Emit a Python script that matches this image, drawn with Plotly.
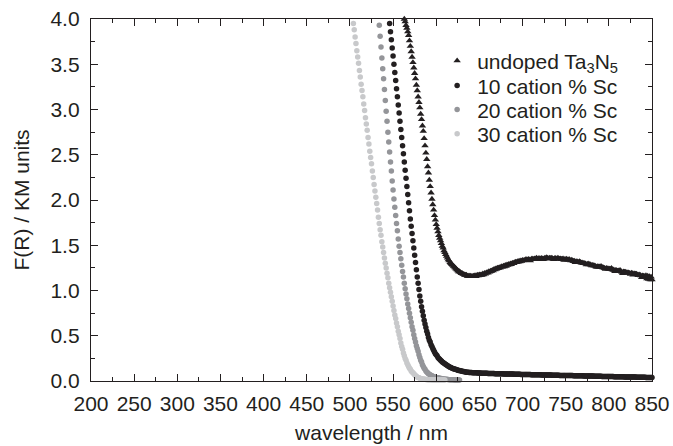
import plotly.graph_objects as go

FONT = "Liberation Sans, Arial, Helvetica, sans-serif"
INK = "#231f20"

# ---------------- data (1 nm steps) ----------------
wl_undoped = list(range(563, 851))
f_undoped = [
    4.00, 3.97, 3.93, 3.90, 3.86, 3.82, 3.76, 3.70, 3.64, 3.58,
    3.52, 3.46, 3.40, 3.34, 3.27, 3.21, 3.14, 3.08, 3.02, 2.95,
    2.89, 2.82, 2.76, 2.68, 2.60, 2.52, 2.45, 2.37, 2.30, 2.22,
    2.15, 2.08, 2.01, 1.95, 1.89, 1.83, 1.78, 1.73, 1.69, 1.65,
    1.61, 1.58, 1.55, 1.52, 1.49, 1.47, 1.44, 1.42, 1.40, 1.38,
    1.36, 1.34, 1.33, 1.31, 1.30, 1.29, 1.28, 1.27, 1.26, 1.25,
    1.24, 1.23, 1.22, 1.21, 1.21, 1.20, 1.19, 1.19, 1.18, 1.18,
    1.17, 1.17, 1.17, 1.16, 1.16, 1.16, 1.16, 1.16, 1.155, 1.155,
    1.16, 1.16, 1.165, 1.155, 1.165, 1.17, 1.165, 1.175, 1.17, 1.175,
    1.17, 1.185, 1.175, 1.19, 1.185, 1.195, 1.20, 1.195, 1.21, 1.205,
    1.215, 1.215, 1.225, 1.22, 1.235, 1.23, 1.24, 1.24, 1.25, 1.245,
    1.255, 1.25, 1.26, 1.265, 1.26, 1.27, 1.265, 1.28, 1.27, 1.285,
    1.28, 1.29, 1.285, 1.295, 1.29, 1.30, 1.305, 1.30, 1.31, 1.315,
    1.31, 1.32, 1.315, 1.325, 1.32, 1.33, 1.325, 1.335, 1.33, 1.335,
    1.335, 1.345, 1.335, 1.34, 1.345, 1.34, 1.33, 1.345, 1.35, 1.345,
    1.345, 1.35, 1.345, 1.36, 1.35, 1.345, 1.355, 1.35, 1.35, 1.355,
    1.352, 1.345, 1.353, 1.36, 1.354, 1.365, 1.355, 1.35, 1.358, 1.355,
    1.355, 1.36, 1.352, 1.345, 1.354, 1.355, 1.35, 1.352, 1.36, 1.350,
    1.349, 1.352, 1.345, 1.347, 1.35, 1.335, 1.344, 1.342, 1.348, 1.340,
    1.338, 1.345, 1.335, 1.33, 1.336, 1.329, 1.322, 1.325, 1.31, 1.321,
    1.319, 1.317, 1.31, 1.32, 1.311, 1.305, 1.307, 1.3, 1.302, 1.299,
    1.296, 1.285, 1.29, 1.295, 1.286, 1.29, 1.282, 1.276, 1.28, 1.276,
    1.274, 1.272, 1.265, 1.258, 1.266, 1.262, 1.262, 1.26, 1.268, 1.256,
    1.254, 1.252, 1.245, 1.236, 1.246, 1.244, 1.238, 1.24, 1.238, 1.236,
    1.245, 1.232, 1.228, 1.226, 1.212, 1.224, 1.222, 1.215, 1.218, 1.216,
    1.225, 1.212, 1.204, 1.19, 1.206, 1.204, 1.205, 1.20, 1.195, 1.197,
    1.196, 1.19, 1.182, 1.192, 1.19, 1.172, 1.186, 1.185, 1.183, 1.182,
    1.175, 1.168, 1.175, 1.172, 1.165, 1.145, 1.163, 1.16, 1.158, 1.15,
    1.165, 1.13, 1.16, 1.125, 1.155, 1.12, 1.15, 1.12,
]

wl_sc10 = list(range(546, 851))
f_sc10 = [
    3.95, 3.86, 3.77, 3.68, 3.59, 3.50, 3.41, 3.32, 3.23, 3.14,
    3.05, 2.96, 2.87, 2.78, 2.69, 2.60, 2.51, 2.42, 2.33, 2.24,
    2.15, 2.06, 1.97, 1.88, 1.79, 1.71, 1.63, 1.55, 1.47, 1.39,
    1.31, 1.23, 1.15, 1.08, 1.01, 0.94, 0.88, 0.82, 0.77, 0.72,
    0.67, 0.63, 0.59, 0.55, 0.52, 0.48, 0.45, 0.43, 0.40, 0.38,
    0.36, 0.34, 0.32, 0.30, 0.29, 0.28, 0.26, 0.25, 0.24, 0.23,
    0.22, 0.21, 0.205, 0.197, 0.19, 0.183, 0.176, 0.17, 0.164, 0.158,
    0.153, 0.148, 0.143, 0.139, 0.135, 0.132, 0.129, 0.126, 0.123, 0.12,
    0.117, 0.115, 0.112, 0.11, 0.108, 0.106, 0.104, 0.102, 0.10, 0.098,
    0.097, 0.096, 0.095, 0.094, 0.094, 0.093, 0.092, 0.092, 0.091, 0.091,
    0.090, 0.090, 0.089, 0.089, 0.088, 0.088, 0.087, 0.087, 0.087, 0.086,
    0.086, 0.085, 0.085, 0.085, 0.084, 0.084, 0.083, 0.083, 0.083, 0.082,
    0.082, 0.082, 0.081, 0.081, 0.081, 0.080, 0.080, 0.080, 0.080, 0.079,
    0.079, 0.079, 0.078, 0.078, 0.078, 0.078, 0.077, 0.077, 0.077, 0.077,
    0.076, 0.076, 0.076, 0.076, 0.075, 0.075, 0.075, 0.075, 0.074, 0.074,
    0.074, 0.074, 0.073, 0.073, 0.073, 0.073, 0.072, 0.072, 0.072, 0.072,
    0.071, 0.071, 0.071, 0.071, 0.070, 0.070, 0.070, 0.070, 0.069, 0.069,
    0.069, 0.069, 0.068, 0.068, 0.068, 0.068, 0.067, 0.067, 0.067, 0.067,
    0.066, 0.066, 0.066, 0.066, 0.065, 0.065, 0.065, 0.065, 0.064, 0.064,
    0.064, 0.064, 0.063, 0.063, 0.063, 0.063, 0.063, 0.062, 0.062, 0.062,
    0.062, 0.062, 0.062, 0.062, 0.062, 0.061, 0.061, 0.061, 0.061, 0.060,
    0.060, 0.060, 0.060, 0.059, 0.059, 0.059, 0.059, 0.058, 0.058, 0.058,
    0.058, 0.057, 0.057, 0.057, 0.057, 0.056, 0.056, 0.056, 0.056, 0.055,
    0.055, 0.055, 0.055, 0.054, 0.054, 0.054, 0.054, 0.053, 0.053, 0.053,
    0.053, 0.052, 0.052, 0.052, 0.052, 0.052, 0.051, 0.051, 0.051, 0.051,
    0.051, 0.050, 0.050, 0.050, 0.050, 0.050, 0.049, 0.049, 0.049, 0.049,
    0.048, 0.048, 0.048, 0.048, 0.047, 0.047, 0.047, 0.047, 0.046, 0.046,
    0.046, 0.046, 0.045, 0.045, 0.045, 0.045, 0.045, 0.044, 0.044, 0.044,
    0.044, 0.043, 0.043, 0.043, 0.043, 0.043, 0.042, 0.042, 0.042, 0.042,
    0.042, 0.041, 0.041, 0.041, 0.041, 0.041, 0.041, 0.040, 0.040, 0.040,
    0.040, 0.040, 0.040, 0.040, 0.040,
]

wl_sc20 = list(range(534, 628))
f_sc20 = [
    3.93, 3.81, 3.69, 3.57, 3.45, 3.34, 3.22, 3.10, 2.98, 2.87,
    2.75, 2.64, 2.53, 2.42, 2.32, 2.21, 2.11, 2.01, 1.92, 1.83,
    1.74, 1.66, 1.57, 1.49, 1.42, 1.35, 1.28, 1.21, 1.15, 1.08,
    1.02, 0.96, 0.91, 0.85, 0.80, 0.75, 0.70, 0.65, 0.60, 0.56,
    0.51, 0.47, 0.43, 0.39, 0.36, 0.33, 0.29, 0.26, 0.23, 0.21,
    0.18, 0.16, 0.14, 0.13, 0.11, 0.10, 0.09, 0.08, 0.075, 0.07,
    0.062, 0.057, 0.052, 0.048, 0.045, 0.042, 0.040, 0.037, 0.035, 0.033,
    0.031, 0.029, 0.027, 0.025, 0.023, 0.021, 0.020, 0.019, 0.018, 0.017,
    0.016, 0.015, 0.015, 0.014, 0.014, 0.013, 0.013, 0.012, 0.012, 0.011,
    0.011, 0.011, 0.010, 0.010,
]

wl_sc30 = list(range(504, 611))
f_sc30 = [
    3.95, 3.88, 3.80, 3.73, 3.65, 3.58, 3.51, 3.43, 3.36, 3.28,
    3.21, 3.14, 3.06, 2.99, 2.91, 2.84, 2.77, 2.69, 2.62, 2.54,
    2.47, 2.40, 2.32, 2.25, 2.17, 2.10, 2.03, 1.96, 1.89, 1.81,
    1.74, 1.67, 1.61, 1.54, 1.48, 1.42, 1.36, 1.30, 1.25, 1.19,
    1.14, 1.08, 1.03, 0.98, 0.93, 0.88, 0.83, 0.78, 0.73, 0.69,
    0.64, 0.60, 0.55, 0.51, 0.47, 0.42, 0.38, 0.35, 0.31, 0.28,
    0.25, 0.23, 0.20, 0.18, 0.16, 0.14, 0.13, 0.11, 0.10, 0.09,
    0.08, 0.07, 0.06, 0.05, 0.045, 0.04, 0.035, 0.03, 0.028, 0.025,
    0.023, 0.021, 0.019, 0.018, 0.017, 0.016, 0.015, 0.014, 0.014, 0.013,
    0.013, 0.012, 0.012, 0.012, 0.011, 0.011, 0.011, 0.011, 0.010, 0.010,
    0.010, 0.010, 0.010, 0.010, 0.010, 0.010, 0.010,
]

series_names = [
    "undoped Ta<sub>3</sub>N<sub>5</sub>",
    "10 cation % Sc",
    "20 cation % Sc",
    "30 cation % Sc",
]
x_ticks = [200, 250, 300, 350, 400, 450, 500, 550, 600, 650, 700, 750, 800, 850]
y_ticks = [0.0, 0.5, 1.0, 1.5, 2.0, 2.5, 3.0, 3.5, 4.0]

for xs, ys in [(wl_undoped, f_undoped), (wl_sc10, f_sc10), (wl_sc20, f_sc20), (wl_sc30, f_sc30)]:
    assert len(xs) == len(ys), (len(xs), len(ys), xs[0])

# ---------------- figure ----------------
FS = 21
styles = [
    dict(symbol="triangle-up", size=6.5, color=INK),
    dict(symbol="circle", size=5.5, color=INK),
    dict(symbol="circle", size=5.5, color="#949599"),
    dict(symbol="circle", size=5.5, color="#c8c9cb"),
]
data = [(wl_undoped, f_undoped), (wl_sc10, f_sc10), (wl_sc20, f_sc20), (wl_sc30, f_sc30)]
legend_ids = ["legend", "legend2", "legend3", "legend4"]
# vertical centre of each legend row, in paper units
legend_rows = [0.884, 0.815, 0.749, 0.682]

fig = go.Figure()
for (xs, ys), name, st, lid in zip(data, series_names, styles, legend_ids):
    fig.add_trace(go.Scatter(
        x=xs, y=ys, name=name, mode="markers",
        marker=dict(symbol=st["symbol"], size=st["size"], color=st["color"],
                    line=dict(width=0)),
        cliponaxis=False, legend=lid,
    ))

axis_common = dict(
    showline=True, linecolor=INK, linewidth=1.3, mirror="allticks",
    ticks="inside", ticklen=7, tickwidth=1.2, tickcolor=INK,
    showgrid=False, zeroline=False, automargin=False,
    tickfont=dict(family=FONT, size=FS, color=INK),
    title_font=dict(family=FONT, size=FS, color=INK),
)

fig.update_xaxes(
    **axis_common,
    range=[200, 850], tickvals=x_ticks,
    minor=dict(ticks="inside", ticklen=4, tickwidth=1.2, tickcolor=INK, dtick=25, tick0=200, showgrid=False),
    title_text="wavelength / nm", title_standoff=10,
    ticklabelstandoff=4,
)
fig.update_yaxes(
    **axis_common,
    range=[0, 4], tickvals=y_ticks, tickformat=".1f",
    minor=dict(ticks="inside", ticklen=4, tickwidth=1.2, tickcolor=INK, dtick=0.25, tick0=0, showgrid=False),
    title_text="F(R) / KM units", title_standoff=15,
    ticklabelstandoff=6,
)

legend_style = dict(
    x=0.617, xanchor="left", yanchor="middle",
    bgcolor="rgba(0,0,0,0)", borderwidth=0,
    font=dict(family=FONT, size=FS, color=INK),
)
layout_legends = {lid: dict(legend_style, y=yy) for lid, yy in zip(legend_ids, legend_rows)}

fig.update_layout(
    width=673, height=446,
    margin=dict(l=91, r=21, t=19, b=65),
    paper_bgcolor="white", plot_bgcolor="white",
    font=dict(family=FONT, size=FS, color=INK),
    showlegend=True,
    **layout_legends,
)

fig.write_html("out.html")
